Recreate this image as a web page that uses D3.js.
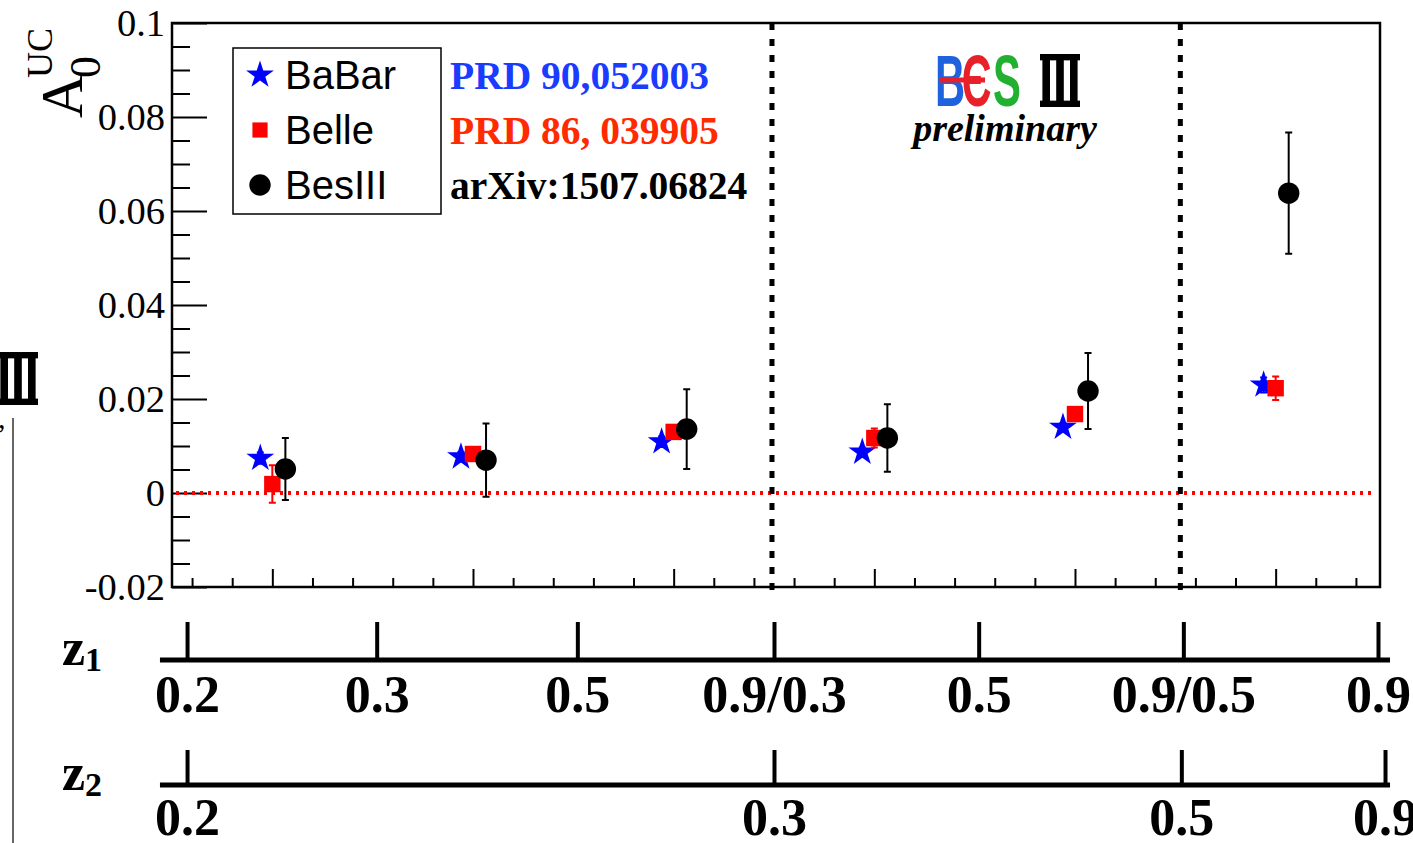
<!doctype html>
<html>
<head>
<meta charset="UTF-8">
<title>A0 UC asymmetry</title>
<script src="https://d3js.org/d3.v7.min.js"></script>
<style>
  body { margin: 0; background: #fff; }
</style>
</head>
<body>
<svg id="chart" width="1413" height="843"></svg>
<script>
// ---- data ----
var bins = [1, 2, 3, 4, 5, 6];
var babarVal = [0.0074, 0.0077, 0.0109, 0.0087, 0.0140, 0.0230];
var babarErr = [0.0012, 0.0010, 0.0011, 0.0010, 0.0009, 0.0016];
var belleVal = [0.0019, 0.0083, 0.0130, 0.0117, 0.0168, 0.0223];
var belleErr = [0.0040, 0.0012, 0.0012, 0.0020, 0.0010, 0.0025];
var besVal = [0.0051, 0.0070, 0.0136, 0.0117, 0.0217, 0.0638];
var besErr = [0.0066, 0.0078, 0.0085, 0.0072, 0.0081, 0.0129];

var yTickValues = [-0.02, 0, 0.02, 0.04, 0.06, 0.08, 0.1];
var yTickLabels = ["-0.02", "0", "0.02", "0.04", "0.06", "0.08", "0.1"];

var z1Pos = [0.575, 1.52, 2.52, 3.5, 4.52, 5.54, 6.51];
var z1Labels = ["0.2", "0.3", "0.5", "0.9/0.3", "0.5", "0.9/0.5", "0.9"];
var z2Pos = [0.575, 3.5, 5.53, 6.545];
var z2Labels = ["0.2", "0.3", "0.5", "0.9"];
var sepPos = [3.49, 5.525];

var legendNames = ["BaBar", "Belle", "BesIII"];
var refTexts = ["PRD 90,052003", "PRD 86, 039905", "arXiv:1507.06824"];
var refColors = ["#1a3cff", "#ff2a00", "#000000"];

// ---- layout ----
var svg = d3.select("#chart");
var plotL = 172, plotR = 1380, plotT = 23, plotB = 587;
var serif = "'Liberation Serif', 'Times New Roman', serif";
var sans = "'Liberation Sans', Arial, sans-serif";

var x = d3.scaleLinear().domain([0.5, 6.52]).range([plotL, plotR]);
var y = d3.scaleLinear().domain([-0.02, 0.1]).range([plotB, plotT]);

// y axis (ticks pointing inside)
var yMinor = d3.range(-0.02, 0.1001, 0.005).filter(function (d) {
  return Math.abs(Math.round(d / 0.02) * 0.02 - d) > 1e-6;
});
svg.append("g").attr("transform", "translate(" + plotL + ",0)")
  .call(d3.axisLeft(y).tickValues(yMinor).tickSizeInner(-18).tickSizeOuter(0).tickFormat(""))
  .call(function (g) { g.select(".domain").remove(); g.selectAll("line").attr("stroke-width", 2); });
svg.append("g").attr("transform", "translate(" + plotL + ",0)")
  .call(d3.axisLeft(y).tickValues(yTickValues).tickSizeInner(-35).tickSizeOuter(0).tickPadding(7)
    .tickFormat(function (d, i) { return yTickLabels[i]; }))
  .call(function (g) {
    g.select(".domain").remove();
    g.selectAll("line").attr("stroke-width", 2);
    g.selectAll("text").attr("font-family", serif).attr("font-size", 38.5).attr("fill", "#000");
  });

// x axis (bin ticks)
var xMinor = d3.range(0.6, 6.45, 0.2).filter(function (d) {
  return Math.abs(Math.round(d) - d) > 1e-6;
});
svg.append("g").attr("transform", "translate(0," + plotB + ")")
  .call(d3.axisBottom(x).tickValues(xMinor).tickSizeInner(-9).tickSizeOuter(0).tickFormat(""))
  .call(function (g) { g.select(".domain").remove(); g.selectAll("line").attr("stroke-width", 2); });
svg.append("g").attr("transform", "translate(0," + plotB + ")")
  .call(d3.axisBottom(x).tickValues(bins).tickSizeInner(-18).tickSizeOuter(0).tickFormat(""))
  .call(function (g) { g.select(".domain").remove(); g.selectAll("line").attr("stroke-width", 2); });

// frame
svg.append("rect")
  .attr("x", plotL).attr("y", plotT).attr("width", plotR - plotL).attr("height", plotB - plotT)
  .attr("fill", "none").attr("stroke", "#000").attr("stroke-width", 2.5);

// zero line
svg.append("line")
  .attr("x1", x(0.52)).attr("x2", x(6.48)).attr("y1", y(0)).attr("y2", y(0))
  .attr("stroke", "#ff0000").attr("stroke-width", 4).attr("stroke-dasharray", "3,5");

// separators
svg.selectAll(".sep").data(sepPos).enter().append("line")
  .attr("class", "sep")
  .attr("x1", function (d) { return x(d); }).attr("x2", function (d) { return x(d); })
  .attr("y1", plotT).attr("y2", plotB + 3)
  .attr("stroke", "#000").attr("stroke-width", 5).attr("stroke-dasharray", "7,9");

// y title A_0^UC
var yt = svg.append("g").attr("transform", "translate(82,118) rotate(-90)")
  .attr("font-family", serif).attr("fill", "#000");
yt.append("text").attr("x", 0).attr("y", 0).attr("font-size", 60).text("A");
yt.append("text").attr("x", 40).attr("y", 18).attr("font-size", 44).text("0");
yt.append("text").attr("x", 40).attr("y", -30).attr("font-size", 36).text("UC");

// ---- data points ----
function drawSeries(vals, errs, off, color, kind) {
  var g = svg.append("g");
  var pts = bins.map(function (b, i) { return { x: b + off, v: vals[i], e: errs[i] }; });
  g.selectAll(".eb").data(pts).enter().append("path")
    .attr("d", function (d) {
      var cx = x(d.x), y1 = y(d.v + d.e), y2 = y(d.v - d.e);
      return "M" + cx + "," + y1 + "V" + y2 +
        "M" + (cx - 3.5) + "," + y1 + "H" + (cx + 3.5) +
        "M" + (cx - 3.5) + "," + y2 + "H" + (cx + 3.5);
    })
    .attr("stroke", color).attr("stroke-width", 2).attr("fill", "none");
  var sym = d3.symbol();
  if (kind === "star") sym.type(d3.symbolStar).size(240);
  if (kind === "square") sym.type(d3.symbolSquare).size(270);
  if (kind === "circle") sym.type(d3.symbolCircle).size(360);
  g.selectAll(".pt").data(pts).enter().append("path")
    .attr("transform", function (d) { return "translate(" + x(d.x) + "," + y(d.v) + ")"; })
    .attr("d", sym).attr("fill", color);
}
drawSeries(babarVal, babarErr, -0.06, "#0000ff", "star");
drawSeries(belleVal, belleErr, 0.0, "#ff0000", "square");
drawSeries(besVal, besErr, 0.065, "#000000", "circle");

// ---- legend ----
svg.append("rect").attr("x", 233).attr("y", 48).attr("width", 208).attr("height", 166)
  .attr("fill", "#fff").attr("stroke", "#000").attr("stroke-width", 1.5);
var legKinds = [
  { type: d3.symbolStar, size: 240, color: "#0000ff" },
  { type: d3.symbolSquare, size: 230, color: "#ff0000" },
  { type: d3.symbolCircle, size: 360, color: "#000000" }
];
legendNames.forEach(function (name, i) {
  var ly = 75 + i * 55;
  svg.append("path")
    .attr("transform", "translate(260," + ly + ")")
    .attr("d", d3.symbol().type(legKinds[i].type).size(legKinds[i].size))
    .attr("fill", legKinds[i].color);
  svg.append("text").attr("x", 285).attr("y", ly + 14)
    .attr("font-family", sans).attr("font-size", 40).attr("fill", "#000").text(name);
  svg.append("text").attr("x", 450).attr("y", ly + 14)
    .attr("font-family", serif).attr("font-weight", "bold").attr("font-size", 39.5)
    .attr("fill", refColors[i]).text(refTexts[i]);
});

// ---- BESIII logo ----
function roman(g, x0, y0, w, h) {
  var bw = w * 0.19, band = h * 0.12;
  g.append("rect").attr("x", x0).attr("y", y0).attr("width", w).attr("height", band).attr("fill", "#000");
  g.append("rect").attr("x", x0).attr("y", y0 + h - band).attr("width", w).attr("height", band).attr("fill", "#000");
  [0.06, 0.405, 0.75].forEach(function (f) {
    g.append("rect").attr("x", x0 + w * f).attr("y", y0).attr("width", bw).attr("height", h).attr("fill", "#000");
  });
}
var logo = svg.append("g");
var lt = logo.append("g").attr("transform", "translate(935,106) scale(0.58,1)")
  .attr("font-family", sans).attr("font-weight", "bold").attr("font-size", 72);
lt.append("text").attr("x", 0).attr("y", 0).attr("fill", "#1f63dc").text("B");
lt.append("text").attr("x", 46).attr("y", 0).attr("fill", "#e8202a").text("Є");
lt.append("text").attr("x", 100).attr("y", 0).attr("fill", "#22b030").text("S");
logo.append("line").attr("x1", 940).attr("x2", 985).attr("y1", 80).attr("y2", 80)
  .attr("stroke", "#e8202a").attr("stroke-width", 5);
roman(logo, 1040, 54, 40, 53);
svg.append("text").attr("x", 1005).attr("y", 141).attr("text-anchor", "middle")
  .attr("font-family", serif).attr("font-weight", "bold").attr("font-style", "italic")
  .attr("font-size", 38).text("preliminary");

// ---- z axes ----
function zAxis(yPos, pos, labels, tickLen, pad, name, sub) {
  var g = svg.append("g").attr("transform", "translate(0," + yPos + ")")
    .call(d3.axisBottom(x).tickValues(pos).tickSizeInner(-tickLen).tickSizeOuter(0).tickPadding(pad)
      .tickFormat(function (d, i) { return labels[i]; }));
  g.select(".domain").remove();
  g.selectAll("line").attr("stroke-width", 4);
  g.selectAll("text").attr("font-family", serif).attr("font-weight", "bold")
    .attr("font-size", 52).attr("fill", "#000");
  g.append("line").attr("x1", x(0.44)).attr("x2", x(6.57)).attr("y1", 0).attr("y2", 0)
    .attr("stroke", "#000").attr("stroke-width", 5);
  var t = svg.append("text").attr("x", 62).attr("y", yPos + 5)
    .attr("font-family", serif).attr("font-weight", "bold").attr("font-size", 52).attr("fill", "#000");
  t.append("tspan").text(name);
  t.append("tspan").attr("font-size", 34).attr("dy", 6).text(sub);
}
zAxis(660, z1Pos, z1Labels, 38, 15, "z", "1");
zAxis(785, z2Pos, z2Labels, 35, 13, "z", "2");

// ---- cropped edge of neighbouring panel ----
roman(svg, -2, 352, 40, 53);
svg.append("line").attr("x1", 13).attr("x2", 13).attr("y1", 418).attr("y2", 843)
  .attr("stroke", "#333").attr("stroke-width", 1.5);
svg.append("text").attr("x", -2).attr("y", 428).attr("font-family", serif)
  .attr("font-size", 30).text(",");
</script>
</body>
</html>
